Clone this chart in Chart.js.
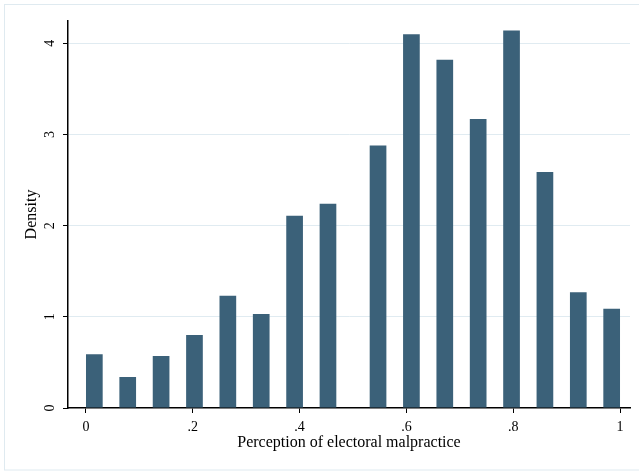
<!DOCTYPE html>
<html>
<head>
<meta charset="utf-8">
<script src="https://cdn.jsdelivr.net/npm/chart.js@4.4.1/dist/chart.umd.min.js"></script>
<style>
  html, body { margin: 0; padding: 0; background: #fff; }
</style>
</head>
<body>
<canvas id="histChart" width="639" height="471"></canvas>
<script>
// Bin centres (bars sit on half of each 1/16 bin) and their densities
const binCenters = [0.015625, 0.078125, 0.140625, 0.203125, 0.265625, 0.328125, 0.390625, 0.453125,
                    0.546875, 0.609375, 0.671875, 0.734375, 0.796875, 0.859375, 0.921875, 0.984375];
const density = [0.59, 0.34, 0.57, 0.80, 1.23, 1.03, 2.11, 2.24,
                 2.88, 4.10, 3.82, 3.17, 4.14, 2.59, 1.27, 1.09];

const xTicks = [0, 0.2, 0.4, 0.6, 0.8, 1];
const xTickLabels = ['0', '.2', '.4', '.6', '.8', '1'];
const yTicks = [0, 1, 2, 3, 4];

const serif = 'Liberation Serif';

// light frame round the whole graph region
const frame = {
  id: 'frame',
  beforeDraw(chart) {
    const c = chart.ctx;
    c.save();
    c.fillStyle = '#fff';
    c.fillRect(0, 0, chart.width, chart.height);
    c.strokeStyle = '#dfeaf0';
    c.lineWidth = 1;
    c.strokeRect(4.5, 4.5, 640, 465.5);
    c.restore();
  }
};

const ctx = document.getElementById('histChart').getContext('2d');

new Chart(ctx, {
  type: 'bar',
  data: {
    datasets: [{
      label: 'Density',
      data: binCenters.map((x, i) => ({ x: x, y: density[i] })),
      backgroundColor: '#3b6179',
      borderWidth: 0,
      categoryPercentage: 1,
      barPercentage: 0.5,
    }],
  },
  options: {
    responsive: false,
    animation: false,
    layout: { padding: { left: 0, top: 21, right: 9, bottom: 0 } },
    plugins: {
      legend: { display: false },
      tooltip: { enabled: false },
    },
    scales: {
      x: {
        type: 'linear',
        offset: false,
        min: -0.0337,
        max: 1.0187,
        afterBuildTicks: s => { s.ticks = xTicks.map(v => ({ value: v })); },
        afterFit: s => { s.height = 63; },
        grid: { offset: false, color: 'rgba(0,0,0,0)', tickColor: '#000', tickLength: 5, tickWidth: 1 },
        border: { color: '#000', width: 1.5 },
        ticks: {
          padding: 6,
          color: '#000',
          font: { family: serif, size: 14 },
          maxRotation: 0,
          callback: (v, i) => xTickLabels[i],
        },
        title: {
          display: true,
          text: 'Perception of electoral malpractice',
          color: '#000',
          font: { family: serif, size: 16 },
          padding: { top: 0, bottom: 19 },
        },
      },
      y: {
        min: 0,
        max: 4.245,
        afterBuildTicks: s => { s.ticks = yTicks.map(v => ({ value: v })); },
        afterFit: s => { s.width = 68; },
        grid: {
          color: c => (c.tick && c.tick.value === 0 ? 'rgba(0,0,0,0)' : '#e0ebf1'),
          tickColor: '#000',
          tickLength: 5,
          lineWidth: 1,
        },
        border: { color: '#000', width: 1.5 },
        ticks: {
          padding: 9,
          color: '#000',
          minRotation: 90,
          maxRotation: 90,
          crossAlign: 'center',
          font: { family: serif, size: 14 },
          callback: v => String(v),
        },
        title: {
          display: true,
          text: 'Density',
          color: '#000',
          font: { family: serif, size: 16 },
          padding: { top: 22, bottom: 0 },
        },
      },
    },
  },
  plugins: [frame],
});
</script>
</body>
</html>
